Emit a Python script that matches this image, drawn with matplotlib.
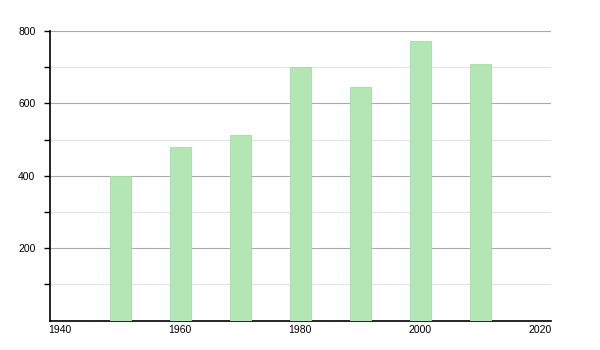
import matplotlib
matplotlib.use("Agg")
import matplotlib.pyplot as plt

plt.rcParams['font.family'] = ['Liberation Sans', 'DejaVu Sans']

years = [1950, 1960, 1970, 1980, 1990, 2000, 2010]
population = [400, 480, 513, 701, 646, 773, 710]
xticks = [1940, 1960, 1980, 2000, 2020]
yticks = [200, 400, 600, 800]
yminor = [100, 300, 500, 700]

fig = plt.figure(figsize=(6, 3.5), dpi=100)
ax = fig.add_axes([50/600, 29.5/350, 501/600, 289.5/350])

ax.bar(years, population, width=3.5, color="#b3e6b3", edgecolor="#a6dca6", linewidth=0.6, zorder=3)

ax.set_xlim(1938.3, 2021.8)
ax.set_ylim(0, 800)
ax.set_xticks(xticks)
ax.set_yticks(yticks)
ax.set_yticks(yminor, minor=True)
ax.grid(axis="y", which="major", color="#aaaaaa", linewidth=0.8, zorder=1)
ax.grid(axis="y", which="minor", color="#e2e2e2", linewidth=0.8, zorder=1)

for s in ["top", "right"]:
    ax.spines[s].set_visible(False)
ax.spines["left"].set_linewidth(1.2)
ax.spines["bottom"].set_linewidth(1.2)
ax.tick_params(axis="x", length=0, labelsize=7.5, pad=3)
ax.tick_params(axis="y", which="major", length=4, width=1, labelsize=7.5, pad=6.5)
ax.tick_params(axis="y", which="minor", length=4, width=1)

fig.savefig("out.png")
